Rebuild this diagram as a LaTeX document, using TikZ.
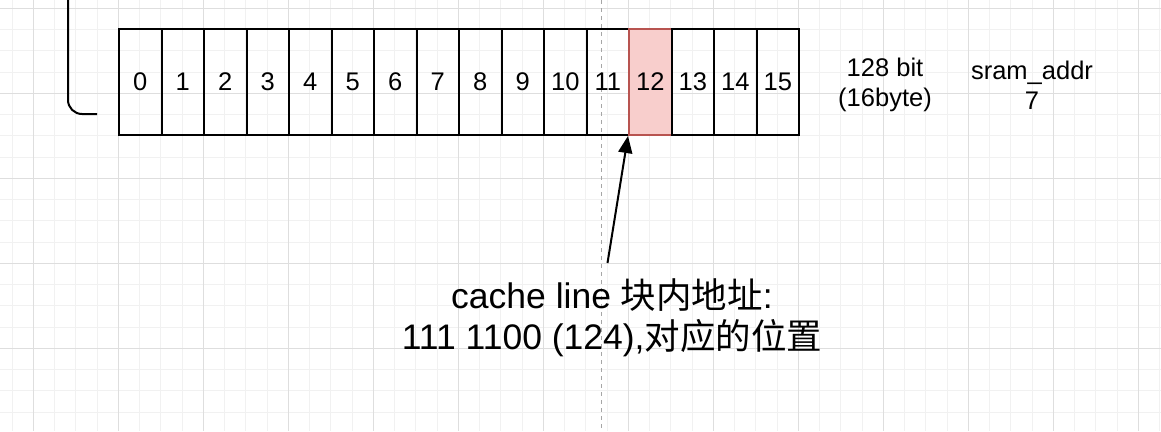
\documentclass[tikz,border=0pt]{standalone}
\usepackage{fontspec}
\setmainfont{Liberation Sans}
\newfontfamily\cjk{Noto Sans CJK SC}
\usetikzlibrary{arrows.meta}
\definecolor{gridmajor}{HTML}{DEDEDE}
\definecolor{gridminor}{HTML}{F1F1F1}
\definecolor{hlfill}{HTML}{F8CECC}
\definecolor{hldraw}{HTML}{B85450}
\tikzset{
  cellbox/.style={draw=black, line width=2pt, minimum width=42.5pt, minimum height=106pt, inner sep=0pt, font=\fontsize{25.5}{30}\selectfont},
  hlcell/.style={cellbox, fill=hlfill, draw=hldraw},
  smalltext/.style={align=center, inner sep=0pt, font=\fontsize{25.5}{30}\selectfont},
  bigtext/.style={align=center, inner sep=0pt, font=\fontsize{35.5}{41}\selectfont},
  pointer/.style={line width=2pt, -{Triangle[length=17pt,width=14pt]}},
}
\begin{document}
\begin{tikzpicture}[x=1pt,y=-1pt]
\useasboundingbox (0,0) rectangle (1161,431);
\fill[white] (0,0) rectangle (1161,431);
% grid
\foreach \k in {0,...,54} {
  \draw[gridminor, line width=1pt] ({12.08+21.25*\k},0) -- ({12.08+21.25*\k},431);
}
\foreach \k in {0,...,20} {
  \draw[gridminor, line width=1pt] (0,{8.3+21.25*\k}) -- (1161,{8.3+21.25*\k});
}
\foreach \k in {0,...,13} {
  \draw[gridmajor, line width=1pt] ({33.3+85*\k},0) -- ({33.3+85*\k},431);
}
\foreach \k in {0,...,5} {
  \draw[gridmajor, line width=1pt] (0,{8.3+85*\k}) -- (1161,{8.3+85*\k});
}
% dashed guide
\draw[gray!70, line width=1pt, dash pattern=on 4pt off 4pt] (601.5,0) -- (601.5,431);
% bracket
\coordinate (b1) at (68,0);
\coordinate (b2) at (97,114);
\draw[line width=2pt, rounded corners=14pt] (b1) |- (b2);
% cells
\foreach \i in {0,...,15} {
  \ifnum\i=12
    \node[hlcell] (c\i) at ({140.25+42.5*\i},82) {\i};
  \else
    \node[cellbox] (c\i) at ({140.25+42.5*\i},82) {\i};
  \fi
}
\node[smalltext] (bits) at (885,85) {128 bit\\(16byte)};
\node[smalltext] (addr) at (1032,85) {sram\_addr\\7};
% label and arrow
\node[bigtext] (lbl) at (612,318) {cache line {\cjk 块内地址}:\\111 1100 (124),{\cjk 对应的位置}};
\coordinate (as) at (607.5,263);
\draw[pointer] (as) -- (c12.south west);
\end{tikzpicture}
\end{document}
